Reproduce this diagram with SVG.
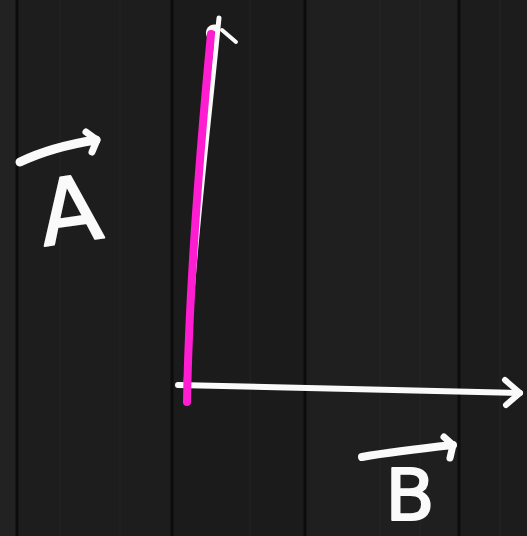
<svg xmlns="http://www.w3.org/2000/svg" width="527" height="536" viewBox="0 0 527 536">
<style>
.chalk{fill:none;stroke:#fafafa;stroke-linecap:round;stroke-linejoin:round}
.seam{stroke:#0c0c0c;stroke-width:3}
.grain{stroke:#2a2a2a;stroke-width:1;opacity:.6}
.lbl{font-family:"DejaVu Sans","Liberation Sans",sans-serif;fill:#fafafa;stroke:#fafafa;stroke-width:2;stroke-linejoin:round}
</style>
<g id="background">
<rect width="527" height="536" fill="#1c1c1c"/>
<rect x="0" y="0" width="17" height="536" fill="#222"/>
<rect x="17" y="0" width="155" height="536" fill="#1d1d1d"/>
<rect x="172" y="0" width="133" height="536" fill="#1b1b1b"/>
<rect x="305" y="0" width="154" height="536" fill="#1f1f1f"/>
<rect x="459" y="0" width="68" height="536" fill="#1c1c1c"/>
<line class="seam" x1="17" y1="0" x2="17" y2="536"/>
<line class="seam" x1="172" y1="0" x2="172" y2="536"/>
<line class="seam" x1="305" y1="0" x2="305" y2="536"/>
<line class="seam" x1="459" y1="0" x2="459" y2="536"/>
<line class="grain" x1="60" y1="0" x2="60" y2="536"/>
<line class="grain" x1="120" y1="0" x2="120" y2="536"/>
<line class="grain" x1="250" y1="0" x2="250" y2="536"/>
<line class="grain" x1="380" y1="0" x2="380" y2="536"/>
<line class="grain" x1="420" y1="0" x2="420" y2="536"/>
<line class="grain" x1="500" y1="0" x2="500" y2="536"/>
</g>
<g id="connectors">
<g id="vector-A-white">
<path class="chalk" stroke-width="5" d="M186 386 C192 260 208 130 219 18"/>
<path class="chalk" stroke-width="4" d="M222 30 L236 42"/>
<path class="chalk" stroke-width="7" d="M213 38 C207 34 209 27 216 28"/>
</g>
<g id="vector-B">
<path class="chalk" stroke-width="6" d="M178 385 C260 387 400 390 520 393"/>
<path class="chalk" stroke-width="6" d="M505 380 L520 393 L506 405"/>
</g>
<g id="vector-pink">
<path fill="none" stroke="#ff1dd2" stroke-width="8" stroke-linecap="round" d="M187 402 C189 290 200 150 211 34"/>
</g>
</g>
<g id="label-A">
<path class="chalk" stroke-width="9" d="M20 162 C45 150 70 144 96 140"/>
<path class="chalk" stroke-width="7" d="M86 132 L97 140 L92 152"/>
<text class="lbl" x="70" y="242" font-size="90" text-anchor="middle" transform="rotate(-8 70 210)">A</text>
</g>
<g id="label-B">
<path class="chalk" stroke-width="8" d="M362 457 C390 452 425 448 453 445"/>
<path class="chalk" stroke-width="7" d="M444 437 L453 445 L450 458"/>
<text class="lbl" x="410" y="520" font-size="72" text-anchor="middle">B</text>
</g>
</svg>
